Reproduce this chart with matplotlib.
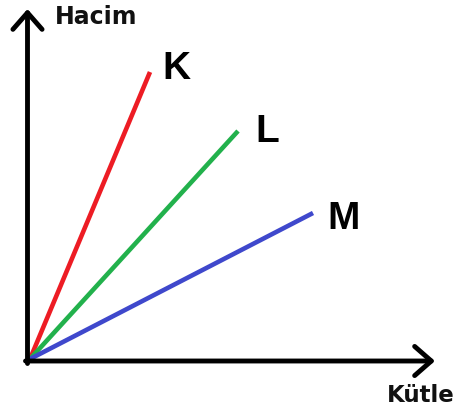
import matplotlib
matplotlib.use("Agg")
import matplotlib.pyplot as plt

# Data: end points of each line (origin at 0,0), in arbitrary units
series = ["K", "L", "M"]
kutle_end = [120, 208, 283]
hacim_end = [287, 228, 146]
colors = ["#ED1C24", "#22B14C", "#3F48CC"]
x_label = "Kütle"
y_label = "Hacim"

# label offsets (layout only)
label_dx = [12, 17, 14]
label_dy = [-7, -11, -16]

fig = plt.figure(figsize=(4.65, 4.12), dpi=100)
ax = fig.add_axes([0, 0, 1, 1])
ax.set_xlim(-30, 435)
ax.set_ylim(-53, 359)
ax.axis("off")

for name, xe, ye, c, dx, dy in zip(series, kutle_end, hacim_end, colors, label_dx, label_dy):
    ax.plot([0, xe], [0, ye], color=c, lw=3.3, solid_capstyle="butt", zorder=2)
    ax.text(xe + dx, ye + dy, name, fontsize=28, fontweight="bold",
            family=["Liberation Sans", "DejaVu Sans"], ha="left", va="baseline",
            color="black")

arrow_style = "->,head_length=1.2,head_width=1.05"
ax.annotate("", xy=(-2.5, 350), xytext=(-2.5, -4.5),
            arrowprops=dict(arrowstyle=arrow_style, lw=3.5, color="black",
                            shrinkA=0, shrinkB=0), zorder=3)
ax.annotate("", xy=(405, -2), xytext=(-4.5, -2),
            arrowprops=dict(arrowstyle=arrow_style, lw=3.5, color="black",
                            shrinkA=0, shrinkB=0), zorder=3)

ax.text(25, 335, y_label, fontsize=17, fontweight="bold",
        family="DejaVu Sans", ha="left", va="baseline", color="#111111")
ax.text(357, -43, x_label, fontsize=16.5, fontweight="bold",
        family="DejaVu Sans", ha="left", va="baseline", color="#111111")

fig.savefig("out.png", dpi=100)
